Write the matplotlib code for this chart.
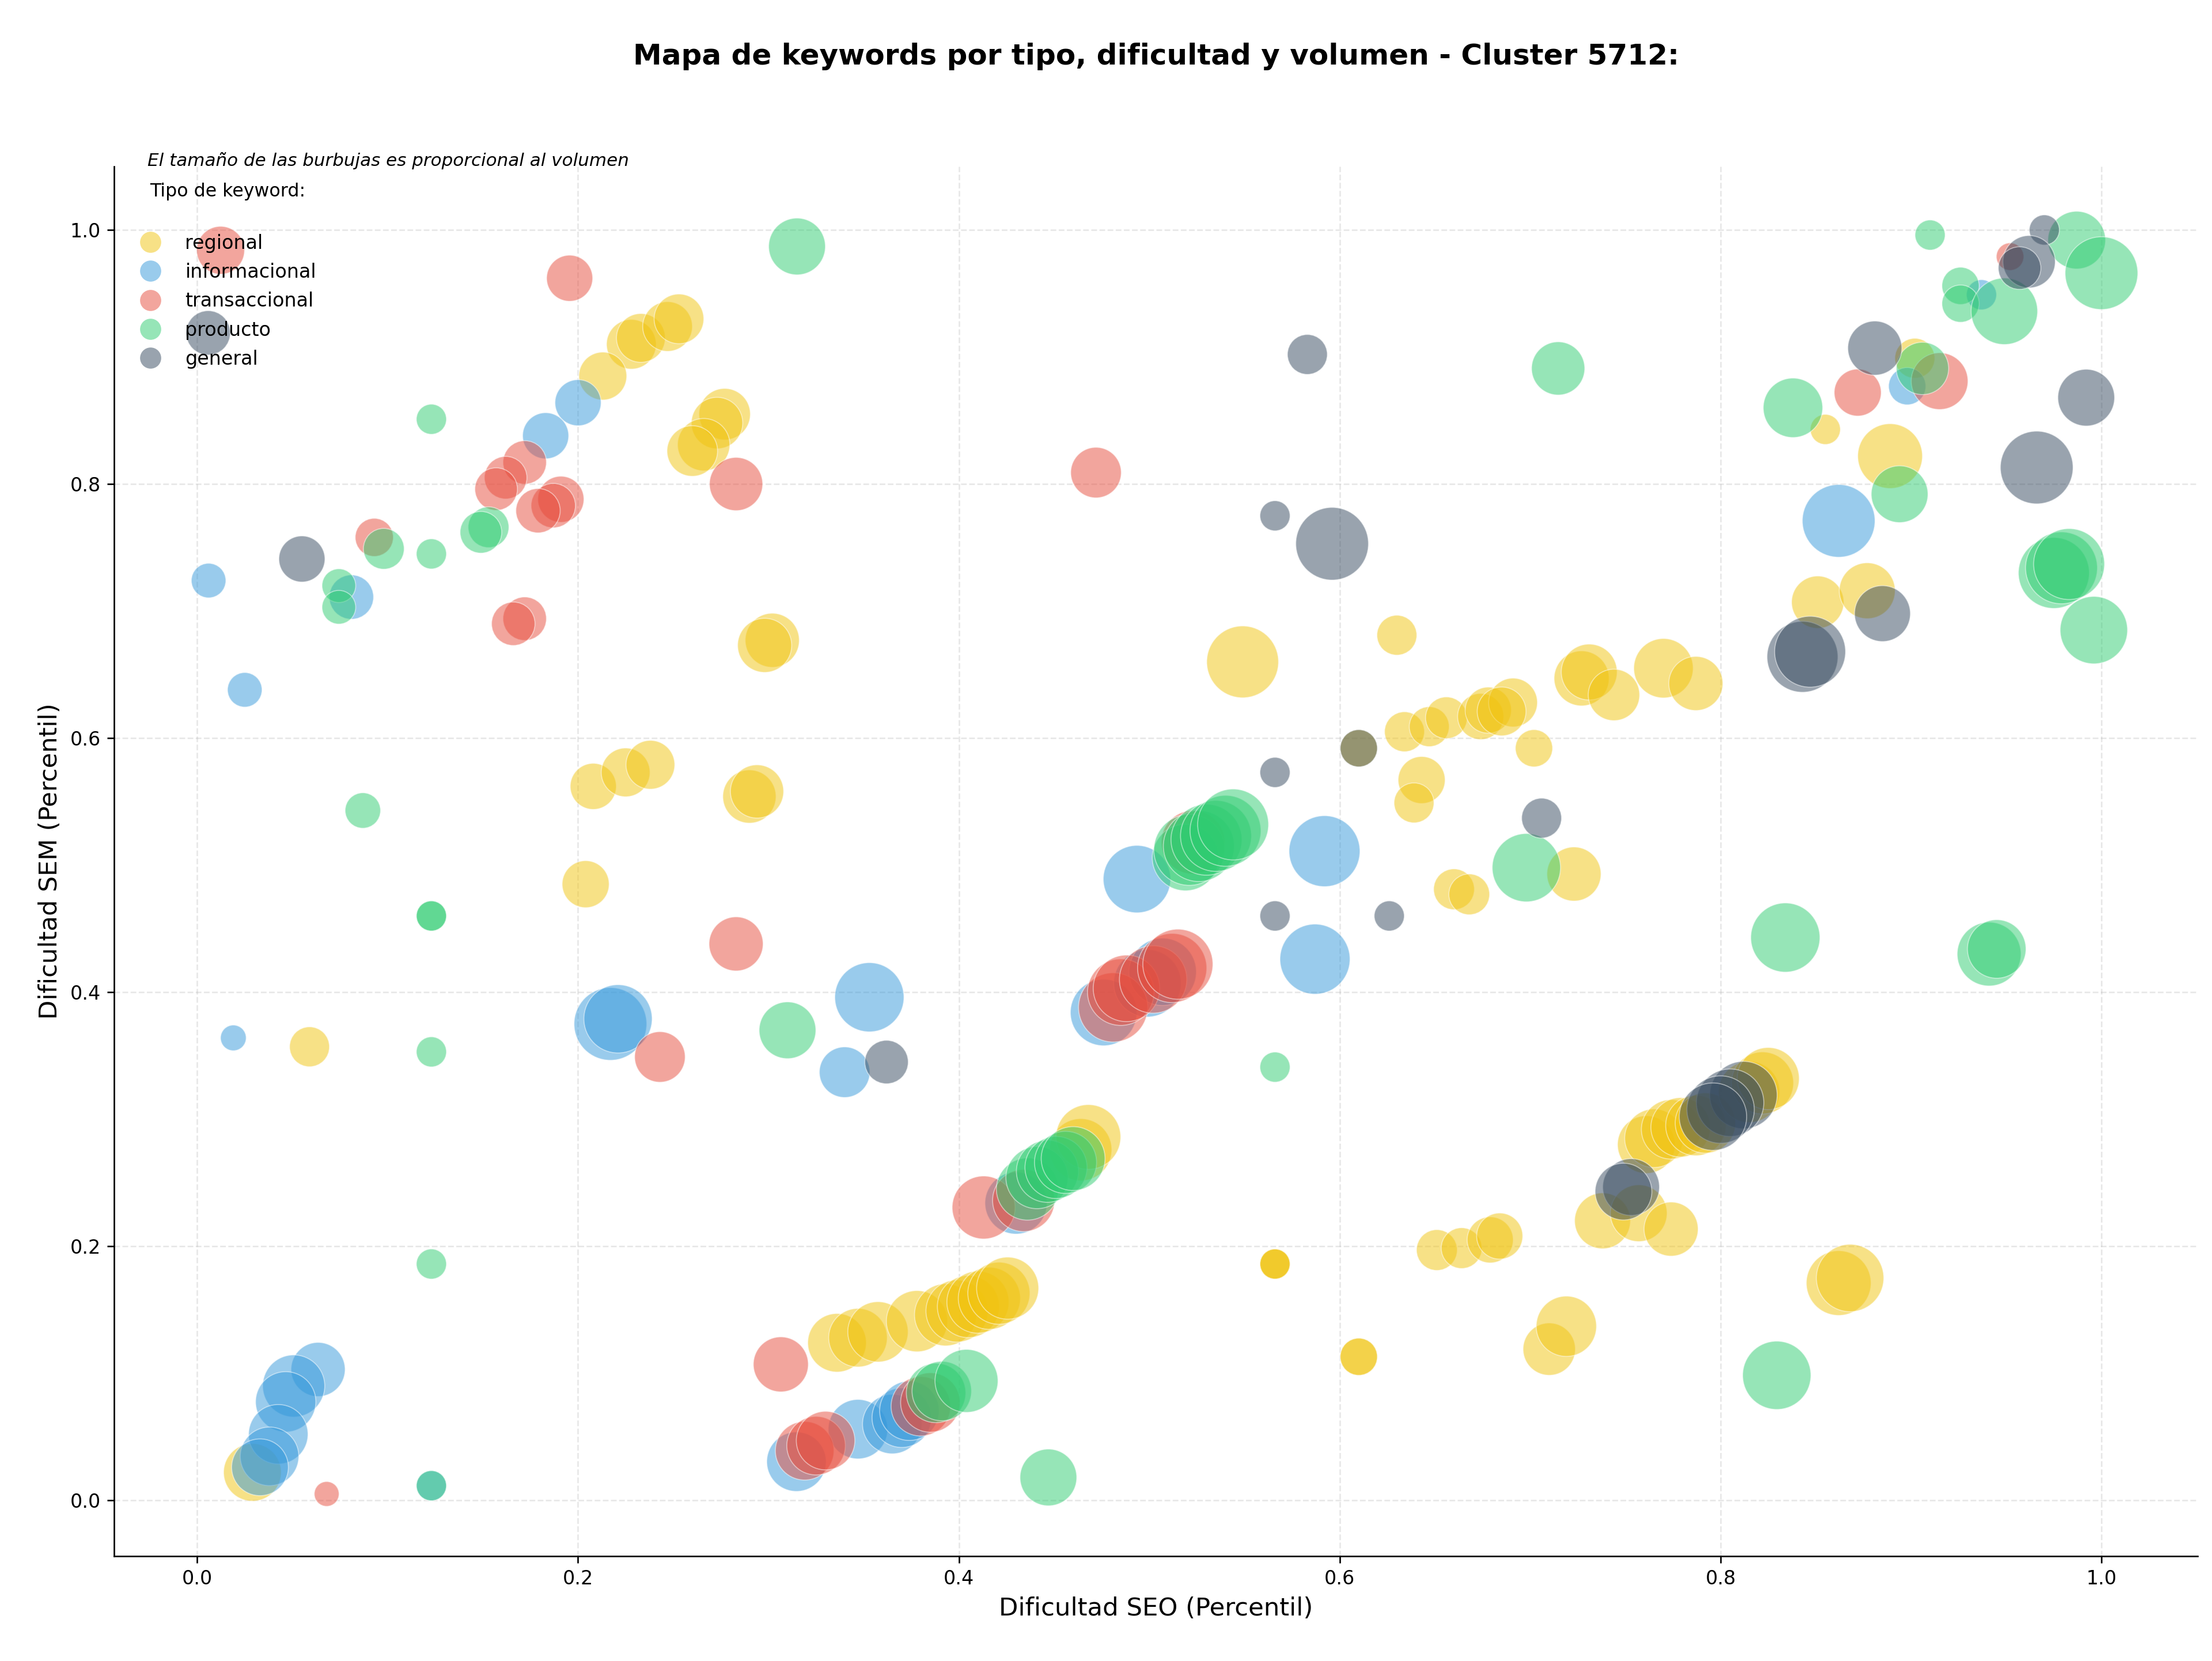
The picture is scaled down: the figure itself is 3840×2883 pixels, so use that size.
import numpy as np
import matplotlib
matplotlib.use("Agg")
import matplotlib.pyplot as plt
from matplotlib.lines import Line2D

# datos por tipo de keyword: dificultad SEO, dificultad SEM (percentiles) y volumen
regional_seo = [0.228, 0.233, 0.247, 0.253, 0.213, 0.277, 0.273, 0.266, 0.260, 0.302, 0.298,
                0.208, 0.225, 0.238, 0.290, 0.294, 0.204, 0.059, 0.029, 0.549, 0.630, 0.610,
                0.634, 0.647, 0.656, 0.674, 0.678, 0.691, 0.685, 0.727, 0.731, 0.744, 0.770,
                0.787, 0.702, 0.643, 0.639, 0.660, 0.668, 0.723, 0.902, 0.855, 0.889, 0.851,
                0.877, 0.566, 0.566, 0.566, 0.610, 0.610, 0.651, 0.664, 0.679, 0.684, 0.710,
                0.719, 0.862, 0.868, 0.738, 0.757, 0.774, 0.761, 0.765, 0.774, 0.779, 0.787,
                0.792, 0.815, 0.822, 0.825, 0.336, 0.347, 0.3575, 0.378, 0.393, 0.399, 0.405,
                0.410, 0.416, 0.421, 0.4256, 0.464, 0.468]
regional_sem = [0.910, 0.915, 0.924, 0.930, 0.885, 0.855, 0.848, 0.831, 0.826, 0.677, 0.673,
                0.562, 0.573, 0.579, 0.554, 0.558, 0.485, 0.357, 0.022, 0.660, 0.681, 0.592,
                0.605, 0.609, 0.616, 0.617, 0.622, 0.628, 0.621, 0.647, 0.652, 0.634, 0.655,
                0.643, 0.592, 0.567, 0.549, 0.481, 0.477, 0.493, 0.899, 0.843, 0.822, 0.707,
                0.716, 0.186, 0.186, 0.186, 0.113, 0.113, 0.197, 0.1985, 0.205, 0.208, 0.119,
                0.137, 0.171, 0.175, 0.220, 0.226, 0.2135, 0.280, 0.285, 0.292, 0.2936, 0.295,
                0.297, 0.3215, 0.3285, 0.332, 0.124, 0.128, 0.1326, 0.141, 0.146, 0.149, 0.1525,
                0.156, 0.159, 0.163, 0.167, 0.276, 0.286]
regional_vol = [669, 645, 669, 669, 622, 717, 717, 742, 693, 793, 793,
                576, 645, 645, 768, 768, 599, 432, 901, 1399, 432, 376,
                432, 432, 471, 576, 576, 645, 645, 820, 846, 717, 957,
                793, 376, 599, 432, 451, 451, 793, 432, 246, 1136, 742,
                846, 246, 246, 246, 376, 376, 451, 451, 576, 576, 742,
                986, 1136, 1231, 846, 873, 793, 901, 929, 957, 957, 986,
                986, 1015, 1045, 1045, 929, 929, 986, 1015, 1045, 1045, 1045,
                1045, 1045, 1045, 1045, 1045, 1136]

info_seo = [0.200, 0.183, 0.006, 0.081, 0.025, 0.019, 0.217, 0.221, 0.353, 0.340,
            0.0635, 0.0507, 0.0465, 0.0426, 0.038, 0.033, 0.123, 0.4935, 0.592, 0.587,
            0.476, 0.499, 0.507, 0.430, 0.3147, 0.347, 0.365, 0.370, 0.374,
            0.862, 0.898, 0.937]
info_sem = [0.864, 0.838, 0.724, 0.711, 0.638, 0.364, 0.375, 0.379, 0.396, 0.337,
            0.103, 0.090, 0.0775, 0.052, 0.0346, 0.026, 0.0115, 0.489, 0.511, 0.426,
            0.384, 0.407, 0.416, 0.234, 0.0304, 0.056, 0.060, 0.065, 0.0705,
            0.771, 0.877, 0.949]
info_vol = [576, 576, 324, 533, 324, 179, 1433, 1264, 1297, 693,
            793, 1045, 986, 957, 929, 873, 246, 1231, 1364, 1331,
            1199, 1231, 1231, 1045, 957, 957, 957, 957, 957,
            1433, 376, 246]

trans_seo = [0.0123, 0.1956, 0.172, 0.162, 0.157, 0.191, 0.187, 0.179, 0.283, 0.093,
             0.172, 0.166, 0.283, 0.243, 0.3065, 0.068, 0.472, 0.481, 0.485, 0.488,
             0.502, 0.512, 0.515, 0.523, 0.413, 0.434, 0.319, 0.325, 0.330, 0.380,
             0.385, 0.872, 0.915, 0.952]
trans_sem = [0.984, 0.962, 0.817, 0.805, 0.796, 0.788, 0.783, 0.779, 0.800, 0.758,
             0.694, 0.690, 0.438, 0.349, 0.107, 0.005, 0.809, 0.388, 0.400, 0.403,
             0.410, 0.419, 0.422, 0.518, 0.2305, 0.236, 0.039, 0.043, 0.047, 0.074,
             0.077, 0.872, 0.881, 0.979]
trans_vol = [622, 576, 512, 491, 491, 576, 533, 533, 768, 394,
             512, 512, 793, 693, 820, 167, 693, 1297, 1199, 1199,
             1231, 1297, 1331, 1100, 1075, 1045, 929, 929, 929, 957,
             957, 599, 873, 205]

prod_seo = [0.315, 0.123, 0.153, 0.149, 0.098, 0.123, 0.0744, 0.0744, 0.087, 0.123,
            0.123, 0.123, 0.310, 0.123, 0.123, 0.519, 0.521, 0.526, 0.530, 0.535,
            0.540, 0.544, 0.436, 0.441, 0.4465, 0.451, 0.456, 0.460, 0.388, 0.391,
            0.404, 0.447, 0.566, 0.698, 0.7147, 0.838, 0.894, 0.906, 0.910, 0.987,
            1.0, 0.926, 0.926, 0.949, 0.975, 0.979, 0.983, 0.996, 0.834, 0.941,
            0.945, 0.8295]
prod_sem = [0.987, 0.851, 0.766, 0.762, 0.749, 0.745, 0.720, 0.703, 0.543, 0.460,
            0.460, 0.353, 0.370, 0.186, 0.0115, 0.506, 0.512, 0.515, 0.520, 0.523,
            0.527, 0.532, 0.245, 0.254, 0.259, 0.262, 0.266, 0.269, 0.0845, 0.086,
            0.094, 0.018, 0.341, 0.498, 0.891, 0.860, 0.792, 0.891, 0.996, 0.992,
            0.966, 0.956, 0.942, 0.936, 0.730, 0.734, 0.737, 0.685, 0.443, 0.430,
            0.434, 0.0984]
prod_vol = [873, 246, 451, 471, 451, 246, 308, 308, 341, 246,
            246, 246, 873, 246, 246, 1199, 1364, 1364, 1364, 1364,
            1364, 1364, 1045, 1045, 1045, 1045, 1045, 1105, 957, 957,
            1075, 873, 246, 1264, 768, 957, 873, 742, 246, 901,
            1433, 376, 376, 1199, 1364, 1399, 1364, 1231, 1297, 1105,
            929, 1264]

gen_seo = [0.0058, 0.055, 0.362, 0.583, 0.566, 0.596, 0.610, 0.566, 0.566, 0.626,
           0.706, 0.881, 0.970, 0.962, 0.957, 0.992, 0.966, 0.885, 0.843, 0.847,
           0.812, 0.805, 0.800, 0.796, 0.753, 0.749]
gen_sem = [0.919, 0.741, 0.345, 0.902, 0.775, 0.753, 0.592, 0.573, 0.460, 0.460,
           0.537, 0.907, 1.0, 0.975, 0.970, 0.868, 0.813, 0.698, 0.664, 0.668,
           0.319, 0.313, 0.3076, 0.302, 0.2466, 0.243]
gen_vol = [533, 576, 512, 432, 246, 1433, 376, 246, 246, 246,
           432, 793, 246, 742, 491, 873, 1433, 846, 1364, 1364,
           1231, 1231, 1231, 1231, 873, 873]

tipos = ['regional', 'informacional', 'transaccional', 'producto', 'general']
colores = {'regional': '#f1c40f', 'informacional': '#3498db', 'transaccional': '#e74c3c',
           'producto': '#2ecc71', 'general': '#34495e'}
datos = {
    'regional': (regional_seo, regional_sem, regional_vol),
    'informacional': (info_seo, info_sem, info_vol),
    'transaccional': (trans_seo, trans_sem, trans_vol),
    'producto': (prod_seo, prod_sem, prod_vol),
    'general': (gen_seo, gen_sem, gen_vol),
}

fig, ax = plt.subplots(figsize=(16, 12.0125), dpi=240)
fig.subplots_adjust(left=0.0516, right=0.9935, bottom=0.0631, top=0.8998)

for t in tipos:
    seo, sem, vol = datos[t]
    ax.scatter(seo, sem, s=np.array(vol), c=colores[t], alpha=0.5,
               edgecolors='white', linewidths=0.5, zorder=3)

ax.set_xlim(-0.0436, 1.0505)
ax.set_ylim(-0.044, 1.050)
ax.set_xticks([0.0, 0.2, 0.4, 0.6, 0.8, 1.0])
ax.set_yticks([0.0, 0.2, 0.4, 0.6, 0.8, 1.0])
ax.grid(True, linestyle='--', alpha=0.3, zorder=0)
ax.spines['top'].set_visible(False)
ax.spines['right'].set_visible(False)

ax.set_xlabel('Dificultad SEO (Percentil)', fontsize=13)
ax.set_ylabel('Dificultad SEM (Percentil)', fontsize=13)

fig.text(0.5226, 0.966, 'Mapa de keywords por tipo, dificultad y volumen - Cluster 5712:',
         fontsize=15, fontweight='bold', ha='center', va='center')
ax.text(0.016, 1.004, 'El tamaño de las burbujas es proporcional al volumen',
        transform=ax.transAxes, fontsize=9.3, style='italic', va='center', ha='left')
ax.text(0.0171, 0.9818, 'Tipo de keyword:', transform=ax.transAxes,
        fontsize=9.5, va='center', ha='left')

handles = [Line2D([], [], marker='o', linestyle='', markersize=11, markerfacecolor=colores[t],
                  markeredgecolor='none', alpha=0.5, label=t) for t in tipos]
ax.legend(handles=handles, loc='upper left', bbox_to_anchor=(0, 0.964), frameon=False,
          fontsize=10, labelspacing=0.52)

fig.savefig('out.png', dpi=240)
